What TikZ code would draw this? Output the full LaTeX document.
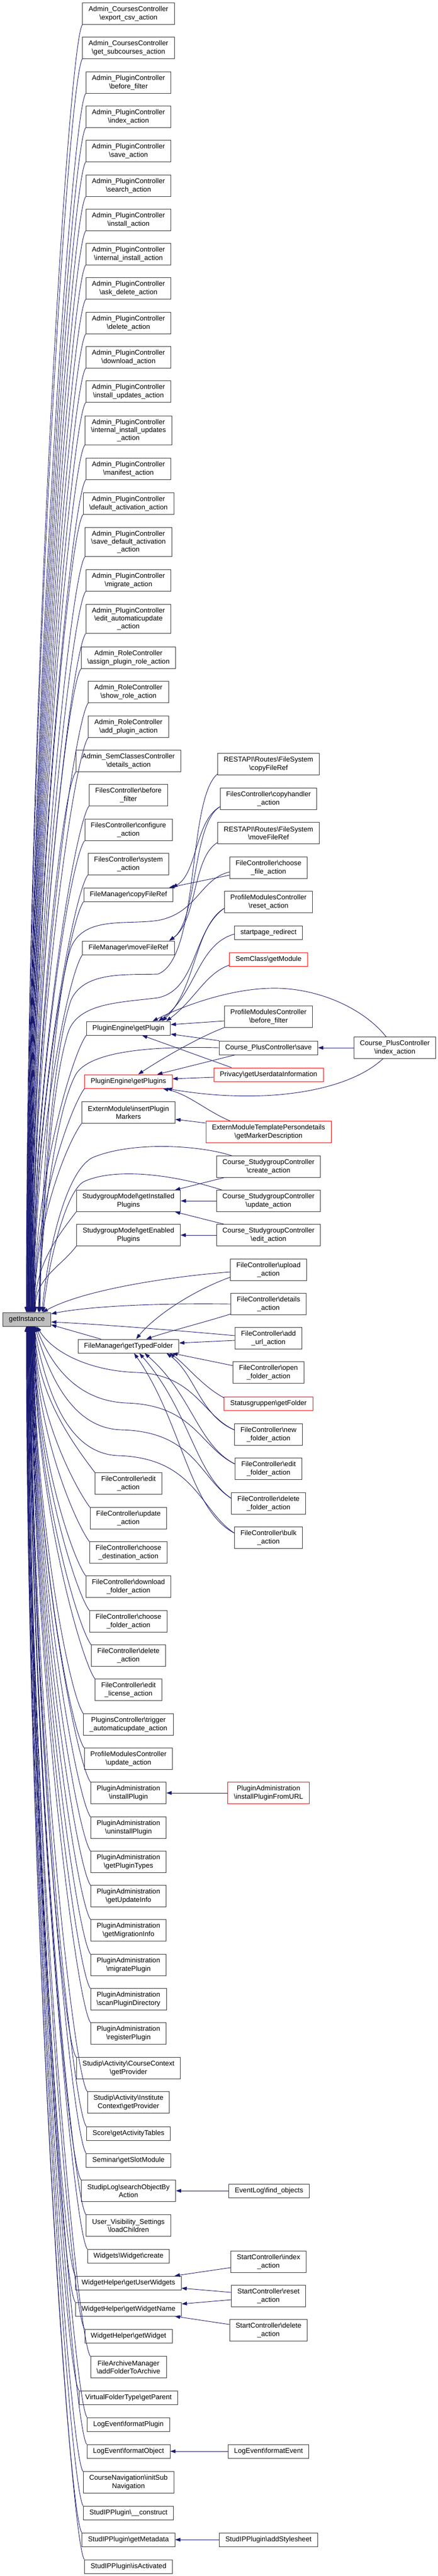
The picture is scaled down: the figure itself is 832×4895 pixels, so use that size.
\documentclass[tikz,border=0pt]{standalone}
\usepackage{fontspec}
\setmainfont{Liberation Sans}
\usetikzlibrary{arrows.meta}
\definecolor{edgeblue}{HTML}{191970}
\definecolor{grayfill}{HTML}{BFBFBF}
\newcommand\bs{\textbackslash}
\newcommand\Eu[3]{\pgfmathsetmacro\ym{2494-0.45*(2494-#2)}\pgfmathsetmacro\dx{#3-5}%
  \draw[edge] (#1.south west) .. controls +(-28,38) and (#3,\ym) .. ([xshift=\dx pt]gi.north west);}
\newcommand\Ed[3]{\pgfmathsetmacro\ym{2520+0.45*(#2-2520)}\pgfmathsetmacro\dx{#3-5}%
  \draw[edge] (#1.north west) .. controls +(-28,-38) and (#3,\ym) .. ([xshift=\dx pt]gi.south west);}
\tikzset{
  box/.style={draw=black!80, line width=0.9pt, inner xsep=11.5pt, inner ysep=2pt, align=center,
    font=\fontsize{13.2}{15.3}\selectfont},
  b1/.style={box, minimum height=26pt},
  b2/.style={box, minimum height=40.5pt},
  b3/.style={box, minimum height=55pt},
  redb/.style={draw=red},
  edge/.style={draw=edgeblue, line width=0.9pt, -{Triangle[length=10pt,width=7pt]}},
}
\begin{document}
\begin{tikzpicture}[x=1pt,y=-1pt]
\useasboundingbox (0,0) rectangle (832,4895);
% ---------- getInstance ----------
\node[b1, fill=grayfill, anchor=west] (gi) at (5,2507) {getInstance};
% ---------- column 2 ----------
\node[b2] (c1) at (244,26) {Admin\_CoursesController\\\bs export\_csv\_action};
\node[b2] (c2) at (244,91) {Admin\_CoursesController\\\bs get\_subcourses\_action};
\node[b2] (c3) at (244,157) {Admin\_PluginController\\\bs before\_filter};
\node[b2] (c4) at (244,222) {Admin\_PluginController\\\bs index\_action};
\node[b2] (c5) at (244,287) {Admin\_PluginController\\\bs save\_action};
\node[b2] (c6) at (244,353) {Admin\_PluginController\\\bs search\_action};
\node[b2] (c7) at (244,418) {Admin\_PluginController\\\bs install\_action};
\node[b2] (c8) at (244,483) {Admin\_PluginController\\\bs internal\_install\_action};
\node[b2] (c9) at (244,548) {Admin\_PluginController\\\bs ask\_delete\_action};
\node[b2] (c10) at (244,614) {Admin\_PluginController\\\bs delete\_action};
\node[b2] (c11) at (244,679) {Admin\_PluginController\\\bs download\_action};
\node[b2] (c12) at (244,744) {Admin\_PluginController\\\bs install\_updates\_action};
\node[b3] (c13) at (244,818) {Admin\_PluginController\\\bs internal\_install\_updates\\\_action};
\node[b2] (c14) at (244,891) {Admin\_PluginController\\\bs manifest\_action};
\node[b2] (c15) at (244,957) {Admin\_PluginController\\\bs default\_activation\_action};
\node[b3] (c16) at (244,1030) {Admin\_PluginController\\\bs save\_default\_activation\\\_action};
\node[b2] (c17) at (244,1103) {Admin\_PluginController\\\bs migrate\_action};
\node[b3] (c18) at (244,1176) {Admin\_PluginController\\\bs edit\_automaticupdate\\\_action};
\node[b2] (c19) at (244,1250) {Admin\_RoleController\\\bs assign\_plugin\_role\_action};
\node[b2] (c20) at (244,1315) {Admin\_RoleController\\\bs show\_role\_action};
\node[b2] (c21) at (244,1381) {Admin\_RoleController\\\bs add\_plugin\_action};
\node[b2] (c22) at (244,1446) {Admin\_SemClassesController\\\bs details\_action};
\node[b2] (c23) at (244,1511) {FilesController\bs before\\\_filter};
\node[b2] (c24) at (244,1577) {FilesController\bs configure\\\_action};
\node[b2] (c25) at (244,1642) {FilesController\bs system\\\_action};
\node[b1] (c26) at (244,1700) {FileManager\bs copyFileRef};
\node[b1] (c27) at (244,1801) {FileManager\bs moveFileRef};
\node[b1] (c28) at (244,1954) {PluginEngine\bs getPlugin};
\node[b1, redb] (c29) at (244,2055) {PluginEngine\bs getPlugins};
\node[b2] (c30) at (244,2114) {ExternModule\bs insertPlugin\\Markers};
\node[b2] (c31) at (244,2282) {StudygroupModel\bs getInstalled\\Plugins};
\node[b2] (c32) at (244,2347) {StudygroupModel\bs getEnabled\\Plugins};
\node[b1] (c33) at (244,2558) {FileManager\bs getTypedFolder};
\node[b2] (c34) at (244,2819) {FileController\bs edit\\\_action};
\node[b2] (c35) at (244,2885) {FileController\bs update\\\_action};
\node[b2] (c36) at (244,2950) {FileController\bs choose\\\_destination\_action};
\node[b2] (c37) at (244,3015) {FileController\bs download\\\_folder\_action};
\node[b2] (c38) at (244,3081) {FileController\bs choose\\\_folder\_action};
\node[b2] (c39) at (244,3146) {FileController\bs delete\\\_action};
\node[b2] (c40) at (244,3211) {FileController\bs edit\\\_license\_action};
\node[b2] (c41) at (244,3277) {PluginsController\bs trigger\\\_automaticupdate\_action};
\node[b2] (c42) at (244,3342) {ProfileModulesController\\\bs update\_action};
\node[b2] (c43) at (244,3407) {PluginAdministration\\\bs installPlugin};
\node[b2] (c44) at (244,3473) {PluginAdministration\\\bs uninstallPlugin};
\node[b2] (c45) at (244,3538) {PluginAdministration\\\bs getPluginTypes};
\node[b2] (c46) at (244,3603) {PluginAdministration\\\bs getUpdateInfo};
\node[b2] (c47) at (244,3668) {PluginAdministration\\\bs getMigrationInfo};
\node[b2] (c48) at (244,3734) {PluginAdministration\\\bs migratePlugin};
\node[b2] (c49) at (244,3799) {PluginAdministration\\\bs scanPluginDirectory};
\node[b2] (c50) at (244,3864) {PluginAdministration\\\bs registerPlugin};
\node[b2] (c51) at (244,3930) {Studip\bs Activity\bs CourseContext\\\bs getProvider};
\node[b2] (c52) at (244,3995) {Studip\bs Activity\bs Institute\\Context\bs getProvider};
\node[b1] (c53) at (244,4054) {Score\bs getActivityTables};
\node[b1] (c54) at (244,4105) {Seminar\bs getSlotModule};
\node[b2] (c55) at (244,4163) {StudipLog\bs searchObjectBy\\Action};
\node[b2] (c56) at (244,4229) {User\_Visibility\_Settings\\\bs loadChildren};
\node[b1] (c57) at (244,4287) {Widgets\bs Widget\bs create};
\node[b1] (c58) at (244,4338) {WidgetHelper\bs getUserWidgets};
\node[b1] (c59) at (244,4388) {WidgetHelper\bs getWidgetName};
\node[b1] (c60) at (244,4439) {WidgetHelper\bs getWidget};
\node[b2] (c61) at (244,4498) {FileArchiveManager\\\bs addFolderToArchive};
\node[b1] (c62) at (244,4556) {VirtualFolderType\bs getParent};
\node[b1] (c63) at (244,4607) {LogEvent\bs formatPlugin};
\node[b1] (c64) at (244,4658) {LogEvent\bs formatObject};
\node[b2] (c65) at (244,4717) {CourseNavigation\bs initSub\\Navigation};
\node[b1] (c66) at (244,4775) {StudIPPlugin\bs\_\_construct};
\node[b1] (c67) at (244,4826) {StudIPPlugin\bs getMetadata};
\node[b1] (c68) at (244,4877) {StudIPPlugin\bs isActivated};
% ---------- column 3 ----------
\node[b2] (r1) at (510,1452) {RESTAPI\bs Routes\bs FileSystem\\\bs copyFileRef};
\node[b2] (r2) at (510,1518) {FilesController\bs copyhandler\\\_action};
\node[b2] (r3) at (510,1583) {RESTAPI\bs Routes\bs FileSystem\\\bs moveFileRef};
\node[b2] (r4) at (510,1649) {FileController\bs choose\\\_file\_action};
\node[b2] (r5) at (510,1714) {ProfileModulesController\\\bs reset\_action};
\node[b1] (r6) at (510,1772) {startpage\_redirect};
\node[b1, redb] (r7) at (510,1823) {SemClass\bs getModule};
\node[b2] (r8) at (510,1932) {ProfileModulesController\\\bs before\_filter};
\node[b1] (r9) at (510,1991) {Course\_PlusController\bs save};
\node[b1, redb] (r10) at (510,2042) {Privacy\bs getUserdataInformation};
\node[b2, redb] (r11) at (510,2151) {ExternModuleTemplatePersondetails\\\bs getMarkerDescription};
\node[b2] (r12) at (510,2217) {Course\_StudygroupController\\\bs create\_action};
\node[b2] (r13) at (510,2282) {Course\_StudygroupController\\\bs update\_action};
\node[b2] (r14) at (510,2347) {Course\_StudygroupController\\\bs edit\_action};
\node[b2] (r15) at (510,2413) {FileController\bs upload\\\_action};
\node[b2] (r16) at (510,2478) {FileController\bs details\\\_action};
\node[b2] (r17) at (510,2543) {FileController\bs add\\\_url\_action};
\node[b2] (r18) at (510,2608) {FileController\bs open\\\_folder\_action};
\node[b1, redb] (r19) at (510,2667) {Statusgruppen\bs getFolder};
\node[b2] (r20) at (510,2726) {FileController\bs new\\\_folder\_action};
\node[b2] (r21) at (510,2791) {FileController\bs edit\\\_folder\_action};
\node[b2] (r22) at (510,2857) {FileController\bs delete\\\_folder\_action};
\node[b2] (r23) at (510,2922) {FileController\bs bulk\\\_action};
\node[b2, redb] (r24) at (510,3407) {PluginAdministration\\\bs installPluginFromURL};
\node[b1] (r25) at (511,4163) {EventLog\bs find\_objects};
\node[b2] (r26) at (510,4298) {StartController\bs index\\\_action};
\node[b2] (r27) at (510,4363) {StartController\bs reset\\\_action};
\node[b2] (r28) at (510,4428) {StartController\bs delete\\\_action};
\node[b1] (r29) at (510,4658) {LogEvent\bs formatEvent};
\node[b1] (r30) at (510,4826) {StudIPPlugin\bs addStylesheet};
% ---------- column 4 ----------
\node[b2] (d1) at (750,1991) {Course\_PlusController\\\bs index\_action};
% ---------- bundle edges to getInstance ----------
\foreach \n/\y [count=\i] in {c1/26,c2/91,c3/157,c4/222,c5/287,c6/353,c7/418,c8/483,c9/548,c10/614,
  c11/679,c12/744,c13/818,c14/891,c15/957,c16/1030,c17/1103,c18/1176,c19/1250,c20/1315,c21/1381,
  c22/1446,c23/1511,c24/1577,c25/1642,c26/1700,c27/1801,c28/1954,c29/2055,c30/2114,c31/2282,c32/2347}
  {\pgfmathsetmacro\ax{50+0.55*(\i-1)}\Eu{\n}{\y}{\ax}}
\foreach \n/\y [count=\i] in {c34/2819,c35/2885,c36/2950,c37/3015,c38/3081,c39/3146,c40/3211,c41/3277,
  c42/3342,c43/3407,c44/3473,c45/3538,c46/3603,c47/3668,c48/3734,c49/3799,c50/3864,c51/3930,c52/3995,
  c53/4054,c54/4105,c55/4163,c56/4229,c57/4287,c58/4338,c59/4388,c60/4439,c61/4498,c62/4556,c63/4607,
  c64/4658,c65/4717,c66/4775,c67/4826,c68/4877}
  {\pgfmathsetmacro\ax{67-0.5*(\i-1)}\Ed{\n}{\y}{\ax}}
\draw[edge] ([xshift=44pt]c33.north west) -- ([yshift=3pt]gi.south east);
% ---------- copy / move ----------
\draw[edge] ([yshift=2pt]r1.south west) .. controls (355,1520) and (380,1820) .. (300,1851)
  .. controls (240,1853) and (160,1845) .. (135,1900) .. controls (100,2000) and (78,2300) .. ([xshift=71pt]gi.north west);
\draw[edge] ([yshift=-15pt]r2.west) .. controls (370,1560) and (375,1660) .. ([xshift=-2pt]c26.north east);
\draw[edge] ([yshift=-15pt]r2.west) .. controls (365,1565) and (375,1750) .. ([xshift=-10pt]c27.north east);
\draw[edge] ([yshift=-18pt]r3.west) .. controls (365,1630) and (375,1750) .. ([xshift=-10pt]c27.north east);
\draw[edge] ([yshift=-14pt]r4.west) -- ([xshift=-8pt]c26.north east);
\draw[edge] ([yshift=-8pt]r4.west) .. controls (380,1670) and (375,1735) .. (300,1749)
  .. controls (240,1758) and (160,1740) .. (135,1800) .. controls (100,1900) and (77,2300) .. ([xshift=69pt]gi.north west);
% ---------- plugins ----------
\draw[edge] ([yshift=-12pt]r5.west) .. controls (370,1760) and (372,1880) .. ([xshift=144pt]c28.north west);
\draw[edge] ([yshift=-12pt]r5.west) .. controls (365,1770) and (375,1880) .. (300,1896)
  .. controls (230,1905) and (150,1905) .. (130,1960) .. controls (100,2050) and (80,2300) .. ([xshift=70pt]gi.north west);
\draw[edge] ([yshift=-3pt]r6.west) .. controls (375,1795) and (372,1890) .. ([xshift=137pt]c28.north west);
\draw[edge] ([yshift=-11pt]r7.west) .. controls (390,1850) and (370,1900) .. ([xshift=152pt]c28.north west);
\draw[edge] ([yshift=-8pt]r8.west) -- ([yshift=7pt]c28.east);
\draw[edge] (r8.south west) .. controls (380,1970) and (310,2010) .. ([xshift=102pt]c29.north west);
\draw[edge] (r9.north west) -- ([yshift=-11pt]c28.east);
\draw[edge] ([xshift=31pt]r9.south west) -- ([xshift=138pt]c29.north west);
\draw[edge] (r9.west) .. controls (300,1988) and (175,1995) .. (145,2040)
  .. controls (110,2100) and (80,2300) .. ([xshift=68pt]gi.north west);
\draw[edge] ([xshift=34pt]r10.north west) -- ([xshift=106pt]c28.south west);
\draw[edge] ([yshift=-5pt]r10.west) -- ([yshift=5pt]c29.east);
\draw[edge] (d1.west) -- (r9.east);
\draw[edge] ([xshift=62pt]d1.north west) .. controls (690,1915) and (600,1875) .. (512,1878)
  .. controls (430,1880) and (340,1915) .. ([xshift=126pt]c28.north west);
\draw[edge] ([xshift=56pt]d1.south west) .. controls (660,2075) and (500,2100) .. ([xshift=-11pt]c29.south east);
\draw[edge] ([xshift=47pt]r11.north west) .. controls (390,2110) and (360,2080) .. ([xshift=-18pt]c29.south east);
\draw[edge] ([yshift=17pt]r11.west) -- ([yshift=-13pt]c30.east);
% ---------- studygroup ----------
\draw[edge] ([xshift=15pt]r12.south west) -- ([xshift=-11pt]c31.north east);
\draw[edge] ([xshift=30pt]r12.north west) .. controls (380,2176) and (250,2168) .. (175,2200)
  .. controls (120,2230) and (88,2400) .. ([xshift=75pt]gi.north west);
\draw[edge] (r13.west) -- (c31.east);
\draw[edge] ([xshift=11pt]r13.north west) .. controls (330,2232) and (220,2218) .. (160,2245)
  .. controls (125,2262) and (92,2400) .. ([xshift=77pt]gi.north west);
\draw[edge] ([xshift=15pt]r14.north west) -- ([xshift=-11pt]c31.south east);
\draw[edge] (r14.west) -- (c32.east);
% ---------- typed folder ----------
\draw[edge] ([yshift=-4pt]r15.west) .. controls (330,2425) and (160,2450) .. ([xshift=76pt]gi.north west);
\draw[edge] ([yshift=-14pt]r15.west) .. controls (360,2455) and (290,2505) .. ([xshift=111pt]c33.north west);
\draw[edge] (r16.west) .. controls (300,2476) and (170,2482) .. ([yshift=-3pt]gi.north east);
\draw[edge] ([yshift=-19pt]r16.west) .. controls (380,2515) and (320,2530) .. ([xshift=130pt]c33.north west);
\draw[edge] ([yshift=5pt]r17.west) .. controls (300,2525) and (180,2516) .. ([yshift=-5pt]gi.east);
\draw[edge] ([yshift=-4pt]r17.west) -- ([yshift=6pt]c33.east);
\draw[edge] ([yshift=13pt]r18.west) -- ([xshift=-13pt]c33.south east);
\draw[edge] ([yshift=11pt]r19.west) .. controls (385,2635) and (350,2590) .. ([xshift=-18pt]c33.south east);
\draw[edge] ([yshift=9pt]r20.west) .. controls (380,2690) and (370,2610) .. ([xshift=-24pt]c33.south east);
\draw[edge] ([yshift=9pt]r20.west) .. controls (385,2690) and (370,2612) .. (260,2608)
  .. controls (170,2605) and (100,2570) .. ([xshift=65pt]gi.south west);
\draw[edge] ([yshift=9pt]r21.west) .. controls (375,2745) and (365,2650) .. ([xshift=127pt]c33.south west);
\draw[edge] ([yshift=9pt]r21.west) .. controls (380,2750) and (370,2670) .. (240,2666)
  .. controls (150,2662) and (100,2600) .. ([xshift=63pt]gi.south west);
\draw[edge] ([yshift=10pt]r22.west) .. controls (370,2800) and (360,2680) .. ([xshift=117pt]c33.south west);
\draw[edge] ([yshift=10pt]r22.west) .. controls (380,2810) and (370,2720) .. (230,2717)
  .. controls (140,2714) and (95,2620) .. ([xshift=61pt]gi.south west);
\draw[edge] ([yshift=9pt]r23.west) .. controls (360,2870) and (345,2700) .. ([xshift=107pt]c33.south west);
\draw[edge] ([yshift=9pt]r23.west) .. controls (380,2870) and (370,2770) .. (224,2766)
  .. controls (130,2762) and (90,2650) .. ([xshift=59pt]gi.south west);
% ---------- lower straight edges ----------
\draw[edge] (r24.west) -- (c43.east);
\draw[edge] (r25.west) -- (c55.east);
\draw[edge] ([yshift=-11pt]r26.west) -- ([xshift=-13pt]c58.north east);
\draw[edge] ([yshift=7pt]r27.west) -- ([yshift=-10pt]c58.east);
\draw[edge] ([yshift=-7pt]r27.west) -- ([yshift=10pt]c59.east);
\draw[edge] ([yshift=11pt]r28.west) -- ([xshift=-13pt]c59.south east);
\draw[edge] (r29.west) -- (c64.east);
\draw[edge] (r30.west) -- (c67.east);
\end{tikzpicture}
\end{document}
